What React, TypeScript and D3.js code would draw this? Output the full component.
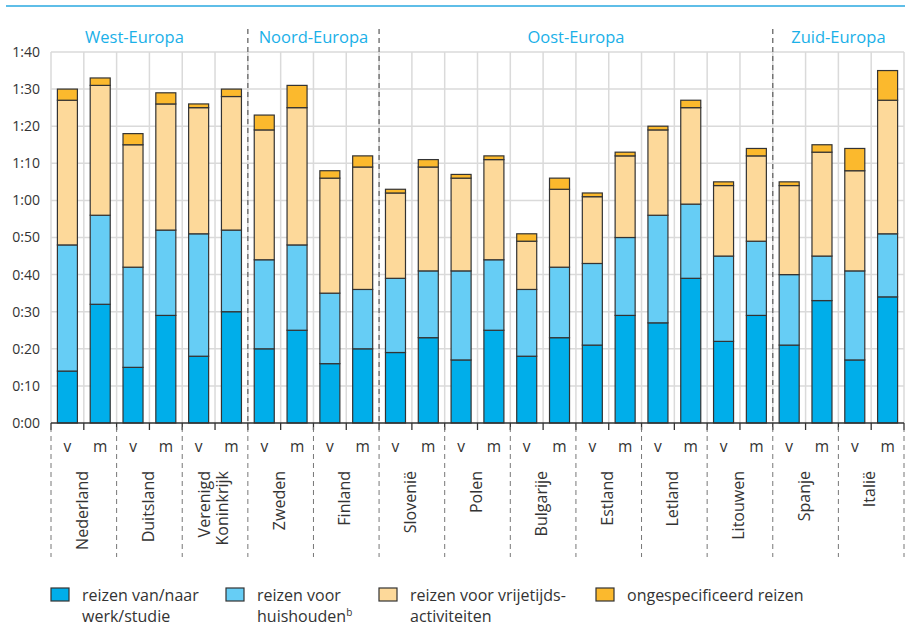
import React from "react";
import * as d3 from "d3";

const countries = ["Nederland", "Duitsland", "Verenigd\nKoninkrijk", "Zweden", "Finland", "Slovenië", "Polen", "Bulgarije", "Estland", "Letland", "Litouwen", "Spanje", "Italië"];
const sexes = ["v", "m"];
const regions = [
  { name: "West-Europa", from: 0, to: 3 },
  { name: "Noord-Europa", from: 3, to: 5 },
  { name: "Oost-Europa", from: 5, to: 11 },
  { name: "Zuid-Europa", from: 11, to: 13 },
];
// minutes per bar, order: country v, country m
const work = [14, 32, 15, 29, 18, 30, 20, 25, 16, 20, 19, 23, 17, 25, 18, 23, 21, 29, 27, 39, 22, 29, 21, 33, 17, 34];
const household = [34, 24, 27, 23, 33, 22, 24, 23, 19, 16, 20, 18, 24, 19, 18, 19, 22, 21, 29, 20, 23, 20, 19, 12, 24, 17];
const leisure = [39, 35, 33, 34, 34, 36, 35, 37, 31, 33, 23, 28, 25, 27, 13, 21, 18, 22, 23, 26, 19, 23, 24, 28, 27, 36];
const unspecified = [3, 2, 3, 3, 1, 2, 4, 6, 2, 3, 1, 2, 1, 1, 2, 3, 1, 1, 1, 2, 1, 2, 1, 2, 6, 8];
const yTicks = [0, 10, 20, 30, 40, 50, 60, 70, 80, 90, 100];
const seriesNames = ["work", "household", "leisure", "unspecified"];
const legendLabels = [["reizen van/naar", "werk/studie"], ["reizen voor", "huishouden"], ["reizen voor vrijetijds-", "activiteiten"], ["ongespecificeerd reizen"]];
const colors = ["#00aeea", "#66cdf5", "#fdd99a", "#fbb92d"];

const W = 905, H = 626;
const FONT = "'Open Sans', 'Noto Sans', sans-serif";

export default function App() {
  const keys = countries.flatMap((c, i) => sexes.map((s) => `${i}-${s}`));
  const rows = keys.map((k, i) => ({ key: k, work: work[i], household: household[i], leisure: leisure[i], unspecified: unspecified[i] }));
  const stack = d3.stack<any>().keys(seriesNames)(rows);

  const x = d3.scaleBand().domain(keys).range([51, 904]).paddingInner(0.39).paddingOuter(0.195);
  const y = d3.scaleLinear().domain([0, 100]).range([423, 52]);
  const step = x.step();
  const boundaries = d3.range(keys.length + 1).map((i) => x.range()[0] + i * step);
  const fmt = (m: number) => `${Math.floor(m / 60)}:${String(m % 60).padStart(2, "0")}`;
  const y0 = y(0);

  return (
    <svg width={W} height={H} style={{ position: "absolute", left: 0, top: 0, background: "#fff" }} fontFamily={FONT}>
      <line x1={6} x2={905} y1={6} y2={6} stroke="#2aa9e0" strokeWidth={1.5} />
      {/* grid */}
      {yTicks.filter((t) => t > 0).map((t) => (
        <line key={"h" + t} x1={51} x2={904} y1={y(t)} y2={y(t)} stroke="#dadada" strokeWidth={1.5} />
      ))}
      {boundaries.map((bx, i) => (
        <line key={"v" + i} x1={bx} x2={bx} y1={y(100)} y2={y0} stroke="#dadada" strokeWidth={1.5} />
      ))}
      {/* region separators */}
      {regions.slice(1).map((r) => {
        const bx = boundaries[r.from * 2];
        return <line key={"r" + r.name} x1={bx} x2={bx} y1={29} y2={y0} stroke="#666" strokeWidth={1.3} strokeDasharray="5,4" />;
      })}
      {regions.map((r, i) => {
        const cx = (boundaries[r.from * 2] + boundaries[r.to * 2]) / 2 - (i === 0 ? 15 : 0);
        return (
          <text key={"rl" + r.name} x={cx} y={43} textAnchor="middle" fill="#1ab0e8" fontSize={16.5}>{r.name}</text>
        );
      })}
      {/* y labels */}
      {yTicks.map((t) => (
        <text key={"yl" + t} x={40} y={y(t)} dy="0.35em" textAnchor="end" fill="#333" fontSize={14}>{fmt(t)}</text>
      ))}
      {/* bars */}
      {stack.map((s, si) => (
        <g key={s.key}>
          {s.map((d: any, i: number) => (
            <rect key={i} x={x(keys[i])} width={x.bandwidth()} y={y(d[1])} height={y(d[0]) - y(d[1])}
              fill={colors[si]} stroke="#333" strokeWidth={1.2} />
          ))}
        </g>
      ))}
      {/* x axis */}
      <line x1={51} x2={904} y1={y0} y2={y0} stroke="#333" strokeWidth={1.5} />
      {boundaries.map((bx, i) => (
        <line key={"t" + i} x1={bx} x2={bx} y1={y0} y2={y0 + 7} stroke="#333" strokeWidth={1.3} />
      ))}
      {boundaries.filter((_, i) => i % 2 === 0).map((bx, i) => (
        <line key={"sd" + i} x1={bx} x2={bx} y1={y0 + 4} y2={557} stroke="#777" strokeWidth={1} strokeDasharray="5,4" />
      ))}
      {keys.map((k, i) => (
        <text key={"s" + k} x={(x(k) as number) + x.bandwidth() / 2} y={447} dy="0.35em" textAnchor="middle" fill="#333" fontSize={15.5}>{sexes[i % 2]}</text>
      ))}
      {countries.map((c, ci) => {
        const cx = (boundaries[ci * 2] + boundaries[ci * 2 + 2]) / 2 - 1.5;
        const lines = c.split("\n");
        return (
          <text key={"c" + c} transform={`rotate(-90)`} x={-471} fill="#333" fontSize={16} textAnchor="end">
            {lines.map((l, li) => (
              <tspan key={li} x={-471} y={cx + (li - (lines.length - 1) / 2) * 18} dy="0.35em">{l}</tspan>
            ))}
          </text>
        );
      })}
      {/* legend */}
      {legendLabels.map((lab, i) => {
        const lx = [51, 226, 379, 596][i];
        return (
          <g key={"lg" + i}>
            <rect x={lx} y={588} width={18} height={13} fill={colors[i]} stroke="#333" strokeWidth={1.2} />
            <text x={lx + 31} y={601} fill="#333" fontSize={16}>
              {lab.map((l, li) => (
                <tspan key={li} x={lx + 31} dy={li === 0 ? 0 : 21}>
                  {l}
                  {i === 1 && li === 1 ? <tspan fontSize={10} dy={-6}>b</tspan> : null}
                </tspan>
              ))}
            </text>
          </g>
        );
      })}
    </svg>
  );
}
